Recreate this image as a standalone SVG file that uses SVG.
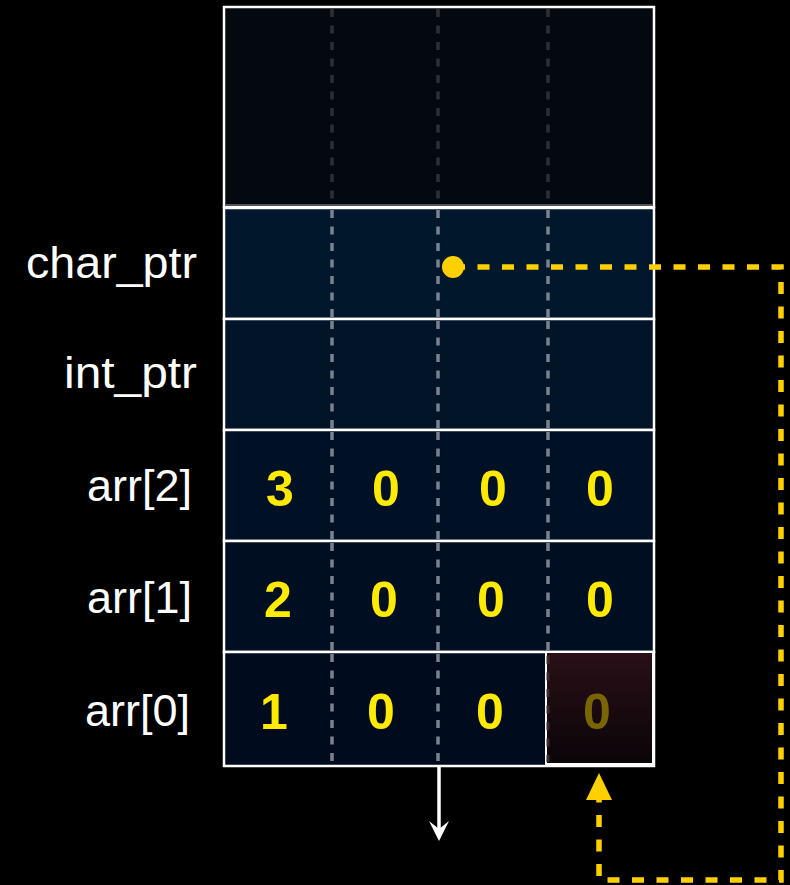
<svg xmlns="http://www.w3.org/2000/svg" width="790" height="885" viewBox="0 0 790 885">
  <defs>
    <style>
      .lbl { font-family: "Liberation Sans", Arial, sans-serif; font-size: 45px; fill: #ffffff; text-anchor: end; }
      .num { font-family: "Liberation Sans", Arial, sans-serif; font-size: 50px; font-weight: bold; fill: #ffea00; text-anchor: middle; }
      .row { stroke: #ffffff; stroke-width: 2.5; }
      .sep { stroke: #7a8291; stroke-width: 3.5; stroke-dasharray: 8 8.5; }
      .sepTop { stroke: #2c2f34; stroke-width: 3.5; stroke-dasharray: 8 8.5; }
      .ptr { fill: none; stroke: #ffd000; stroke-width: 5.5; stroke-dasharray: 12 12.5; }
    </style>
    <linearGradient id="hl" x1="0" y1="0" x2="0" y2="1">
      <stop offset="0" stop-color="#2a0f18"/>
      <stop offset="1" stop-color="#0a0508"/>
    </linearGradient>
  </defs>
  <rect width="790" height="885" fill="#000000"/>

  <g id="stack-top">
    <rect x="224" y="7" width="430" height="200" fill="#04090f" stroke="#ffffff" stroke-width="2.5"/>
    <line class="sepTop" x1="332" y1="9" x2="332" y2="205"/>
    <line class="sepTop" x1="438" y1="9" x2="438" y2="205"/>
    <line class="sepTop" x1="548" y1="9" x2="548" y2="205"/>
    <line x1="225" y1="205" x2="653" y2="205" stroke="#555555" stroke-width="2"/>
  </g>

  <g id="row-char_ptr">
    <rect class="row" x="224" y="208" width="430" height="111" fill="#01172b"/>
    <line class="sep" x1="332" y1="210" x2="332" y2="318"/>
    <line class="sep" x1="438" y1="210" x2="438" y2="318"/>
    <line class="sep" x1="548" y1="210" x2="548" y2="318"/>
    <text class="lbl" x="197" y="278" textLength="171" lengthAdjust="spacingAndGlyphs">char_ptr</text>
  </g>

  <g id="row-int_ptr">
    <rect class="row" x="224" y="319" width="430" height="111" fill="#011428"/>
    <line class="sep" x1="332" y1="321" x2="332" y2="429"/>
    <line class="sep" x1="438" y1="321" x2="438" y2="429"/>
    <line class="sep" x1="548" y1="321" x2="548" y2="429"/>
    <text class="lbl" x="197" y="388" textLength="133" lengthAdjust="spacingAndGlyphs">int_ptr</text>
  </g>

  <g id="row-arr2">
    <rect class="row" x="224" y="430" width="430" height="111" fill="#001125"/>
    <line class="sep" x1="332" y1="432" x2="332" y2="540"/>
    <line class="sep" x1="438" y1="432" x2="438" y2="540"/>
    <line class="sep" x1="548" y1="432" x2="548" y2="540"/>
    <text class="lbl" x="192" y="501">arr[2]</text>
    <text class="num" x="280" y="506">3</text>
    <text class="num" x="386" y="506">0</text>
    <text class="num" x="493" y="506">0</text>
    <text class="num" x="600" y="506">0</text>
  </g>

  <g id="row-arr1">
    <rect class="row" x="224" y="541" width="430" height="111" fill="#000e21"/>
    <line class="sep" x1="332" y1="543" x2="332" y2="651"/>
    <line class="sep" x1="438" y1="543" x2="438" y2="651"/>
    <line class="sep" x1="548" y1="543" x2="548" y2="651"/>
    <text class="lbl" x="192" y="613">arr[1]</text>
    <text class="num" x="278" y="617">2</text>
    <text class="num" x="384" y="617">0</text>
    <text class="num" x="491" y="617">0</text>
    <text class="num" x="600" y="617">0</text>
  </g>

  <g id="row-arr0">
    <rect class="row" x="224" y="652" width="430" height="114" fill="#000c1d"/>
    <line class="sep" x1="332" y1="654" x2="332" y2="764"/>
    <line class="sep" x1="438" y1="654" x2="438" y2="764"/>
    <text class="lbl" x="190" y="726">arr[0]</text>
    <text class="num" x="274" y="729">1</text>
    <text class="num" x="381" y="729">0</text>
    <text class="num" x="490" y="729">0</text>
  </g>

  <g id="cell-arr0-byte3">
    <rect x="546" y="652" width="107" height="112" fill="url(#hl)" stroke="#ffffff" stroke-width="2"/>
    <line x1="548" y1="656" x2="548" y2="762" stroke="#3a2a30" stroke-width="3" stroke-dasharray="8 8.5"/>
    <text class="num" x="597" y="729" style="fill:#7a6600">0</text>
  </g>

  <g id="connectors">
    <line x1="439" y1="767" x2="439" y2="830" stroke="#ffffff" stroke-width="3.5"/>
    <path d="M429,821 L439,829 L449,821 L439,841 Z" fill="#ffffff"/>
    <path class="ptr" d="M453,267 H781 V880 H599 V800"/>
    <circle cx="453" cy="267" r="11" fill="#ffd000"/>
    <polygon points="599,773 586,800 612,800" fill="#ffd000"/>
  </g>
</svg>
